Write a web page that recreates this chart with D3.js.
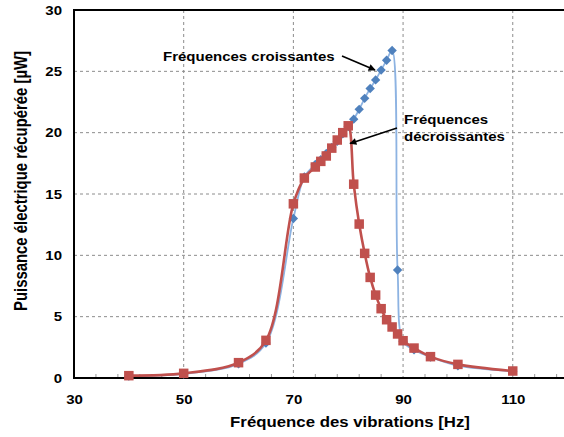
<!DOCTYPE html>
<html><head><meta charset="utf-8">
<script src="https://cdn.jsdelivr.net/npm/d3@7"></script>
<style>body{margin:0;background:#fff}svg{display:block}text{font-family:"Liberation Sans",Arial,sans-serif;font-weight:bold;fill:#000}</style>
</head><body>
<svg id="c" width="564" height="437"></svg>
<script>
const xTicks = [30, 50, 70, 90, 110];
const yTicks = [0, 5, 10, 15, 20, 25, 30];
const upFreq = [40, 50, 60, 65, 70, 72, 74, 75, 76, 77, 78, 79, 80, 81, 82, 83, 84, 85, 86, 87, 88, 89, 90, 92, 95, 100, 110];
const upPower = [0.15, 0.33, 1.15, 2.85, 13.0, 16.4, 17.4, 17.8, 18.3, 18.8, 19.3, 19.9, 20.5, 21.1, 21.9, 22.8, 23.6, 24.3, 25.1, 25.9, 26.7, 8.8, 3.0, 2.3, 1.7, 1.0, 0.55];
const downFreq = [40, 50, 60, 65, 70, 72, 74, 75, 76, 77, 78, 79, 80, 81, 82, 83, 84, 85, 86, 87, 88, 89, 90, 92, 95, 100, 110];
const downPower = [0.19, 0.38, 1.25, 3.07, 14.2, 16.3, 17.2, 17.66, 18.1, 18.74, 19.4, 20.0, 20.56, 15.8, 12.55, 10.16, 8.2, 6.76, 5.65, 4.75, 4.16, 3.59, 3.04, 2.44, 1.74, 1.11, 0.57];
const xTitle = "Fréquence des vibrations [Hz]";
const yTitle = "Puissance électrique récupérée [µW]";
const labelUp = "Fréquences croissantes";
const labelDown = ["Fréquences", "décroissantes"];

const SX = 1.2; // horizontal stretch of text, as in the reference
const svg = d3.select("#c");
const x = d3.scaleLinear().domain([30, 120]).range([74, 567.6]);
const y = d3.scaleLinear().domain([0, 30]).range([378, 10]);

// gridlines
const g = svg.append("g");
g.selectAll(".vg").data(xTicks.slice(1)).enter().append("line")
  .attr("x1", d => x(d)).attr("x2", d => x(d)).attr("y1", y(30)).attr("y2", y(0))
  .attr("stroke", "#8c8c8c").attr("stroke-width", 1).attr("stroke-dasharray", "3,3");
g.selectAll(".hg").data(yTicks.slice(1, -1)).enter().append("line")
  .attr("x1", x(30)).attr("x2", 564).attr("y1", d => y(d)).attr("y2", d => y(d))
  .attr("stroke", "#8c8c8c").attr("stroke-width", 1).attr("stroke-dasharray", "3,3");

// minor ticks
const minor = d3.range(34, 121, 4).filter(v => !xTicks.includes(v) && v < 120);
g.selectAll(".mt").data(minor).enter().append("line")
  .attr("x1", d => x(d)).attr("x2", d => x(d)).attr("y1", y(0) - 4).attr("y2", y(0))
  .attr("stroke", "#999").attr("stroke-width", 1);

// frame
svg.append("line").attr("x1", x(30)).attr("x2", 564).attr("y1", y(30)).attr("y2", y(30)).attr("stroke", "#000").attr("stroke-width", 2);
svg.append("line").attr("x1", x(30)).attr("x2", x(30)).attr("y1", y(30) - 1).attr("y2", y(0) + 1).attr("stroke", "#000").attr("stroke-width", 2);
svg.append("line").attr("x1", x(30) - 1).attr("x2", 564).attr("y1", y(0)).attr("y2", y(0)).attr("stroke", "#000").attr("stroke-width", 2);

// axes labels
const xa = svg.append("g").attr("transform", `translate(0,${y(0)})`)
  .call(d3.axisBottom(x).tickValues(xTicks).tickSize(0).tickPadding(17));
xa.select(".domain").remove();
xa.selectAll("text").attr("font-size", 12.5).attr("font-family", "Liberation Sans, Arial").attr("font-weight", "bold").attr("fill", "#000")
  .attr("transform", `scale(${SX},1)`);
const ya = svg.append("g").attr("transform", `translate(${x(30)},0)`)
  .call(d3.axisLeft(y).tickValues(yTicks).tickSize(0).tickPadding(10));
ya.select(".domain").remove();
ya.selectAll("text").attr("font-size", 12.5).attr("font-family", "Liberation Sans, Arial").attr("font-weight", "bold").attr("fill", "#000")
  .attr("transform", `scale(${SX},1)`);

svg.append("text").attr("transform", `translate(350,427) scale(${SX},1)`).attr("text-anchor", "middle").attr("font-size", 14).text(xTitle);
svg.append("text").attr("transform", `translate(27,181) scale(${SX},1) rotate(-90)`).attr("text-anchor", "middle").attr("font-size", 14.9).text(yTitle);

// series
const up = upFreq.map((f, i) => [f, upPower[i]]);
const down = downFreq.map((f, i) => [f, downPower[i]]);
const line = d3.line().x(d => x(d[0])).y(d => y(d[1])).curve(d3.curveCatmullRom.alpha(0.5));

svg.append("path").datum(up).attr("d", line).attr("fill", "none").attr("stroke", "#8db3e2").attr("stroke-width", 1.8);
svg.selectAll(".dia").data(up).enter().append("path")
  .attr("d", d3.symbol(d3.symbolSquare, 44))
  .attr("transform", d => `translate(${x(d[0])},${y(d[1])}) rotate(45)`)
  .attr("fill", "#4f81bd");

svg.append("path").datum(down).attr("d", line).attr("fill", "none").attr("stroke", "#c0504d").attr("stroke-width", 2.6);
svg.selectAll(".sq").data(down).enter().append("rect")
  .attr("x", d => x(d[0]) - 4.75).attr("y", d => y(d[1]) - 4.75).attr("width", 9.5).attr("height", 9.5)
  .attr("fill", "#c0504d");

// annotations
const defs = svg.append("defs");
defs.append("marker").attr("id", "ah").attr("viewBox", "0 0 10 10").attr("refX", 9).attr("refY", 5)
  .attr("markerWidth", 10).attr("markerHeight", 7).attr("markerUnits", "userSpaceOnUse").attr("orient", "auto")
  .append("path").attr("d", "M0,0 L10,5 L0,10 Z").attr("fill", "#000");

svg.append("text").attr("transform", `translate(163,61) scale(${SX},1)`).attr("font-size", 12.5).text(labelUp);
svg.append("line").attr("x1", 342).attr("y1", 56).attr("x2", 375).attr("y2", 70)
  .attr("stroke", "#000").attr("stroke-width", 1.6).attr("marker-end", "url(#ah)");
svg.append("text").attr("transform", `translate(404,124) scale(${SX},1)`).attr("font-size", 12.5).text(labelDown[0]);
svg.append("text").attr("transform", `translate(404,141) scale(${SX},1)`).attr("font-size", 12.5).text(labelDown[1]);
svg.append("line").attr("x1", 397).attr("y1", 128).attr("x2", 350).attr("y2", 143.5)
  .attr("stroke", "#000").attr("stroke-width", 1.6).attr("marker-end", "url(#ah)");
</script>
</body></html>
